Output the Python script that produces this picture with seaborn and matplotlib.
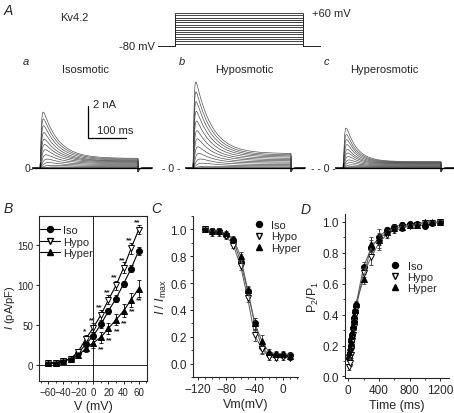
import numpy as np
import pandas as pd
import matplotlib
matplotlib.use("Agg")
import matplotlib.pyplot as plt
import seaborn as sns
from matplotlib.lines import Line2D
from matplotlib.ticker import MultipleLocator

W, H = 454, 414

# Voltage protocol
step_mv = [-70, -60, -50, -40, -30, -20, -10, 0, 10, 20, 30, 40, 50, 60]

# Current traces (nA): peak and steady level for each step, per condition
iso_peak = [4.4, 3.9, 3.4, 2.9, 2.4, 2.0, 1.6, 1.2, 0.85, 0.55, 0.3, 0.12, 0.04]
iso_steady = [0.6, 0.55, 0.5, 0.45, 0.42, 0.38, 0.33, 0.28, 0.22, 0.16, 0.1, 0.05, 0.02]
hypo_peak = [6.5, 5.8, 5.1, 4.4, 3.7, 3.0, 2.4, 1.8, 1.3, 0.85, 0.5, 0.2, 0.06]
hypo_steady = [0.9, 0.82, 0.75, 0.68, 0.6, 0.52, 0.45, 0.37, 0.3, 0.22, 0.14, 0.07, 0.02]
hyper_peak = [3.5, 3.0, 2.6, 2.2, 1.8, 1.5, 1.2, 0.9, 0.65, 0.42, 0.22, 0.1, 0.03]
hyper_steady = [0.4, 0.37, 0.34, 0.31, 0.28, 0.25, 0.21, 0.17, 0.13, 0.09, 0.06, 0.03, 0.01]
tau_inact = {"iso": 40, "hypo": 42, "hyper": 28}

# B: I-V
iv_v = [-60, -50, -40, -30, -20, -10, 0, 10, 20, 30, 40, 50, 60]
iv_iso = [2, 3, 5, 8, 15.5, 26, 37, 51, 68, 83.5, 102, 121, 143.5]
iv_hypo = [2, 3, 5, 8, 17, 33, 47, 63, 82, 100, 122, 146.5, 170]
iv_hyper = [2, 3, 5, 8, 12, 21, 28, 35, 46, 57, 68, 82, 96]
iv_iso_err = [0.5, 0.5, 1, 1, 2, 3, 4, 4, 4, 4, 4, 4, 5]
iv_hypo_err = [0.5, 0.5, 1, 1, 3, 5, 6, 6, 6, 6, 7, 7, 6]
iv_hyper_err = [0.5, 0.5, 1, 1, 3, 5, 6, 7, 7, 7, 8, 9, 11]
hypo_sig = ["", "", "", "", "", "*", "**", "**", "**", "**", "**", "**", "**"]
hyper_sig = ["", "", "", "", "", "", "", "**", "**", "**", "**", "**", "**"]

# C: steady-state inactivation
ss_v = [-110, -100, -90, -80, -70, -60, -50, -40, -30, -20, -10, 0, 10]
ss_iso = [1.0, 0.99, 0.99, 0.96, 0.92, 0.76, 0.54, 0.30, 0.12, 0.07, 0.065, 0.065, 0.062]
ss_hypo = [1.0, 0.97, 0.97, 0.95, 0.88, 0.73, 0.49, 0.21, 0.11, 0.05, 0.045, 0.05, 0.045]
ss_hyper = [1.0, 0.99, 0.99, 0.97, 0.93, 0.80, 0.55, 0.30, 0.17, 0.085, 0.075, 0.075, 0.06]
ss_err = [0.01, 0.02, 0.02, 0.02, 0.02, 0.03, 0.03, 0.04, 0.04, 0.02, 0.02, 0.02, 0.02]

# D: recovery from inactivation
rec_t = [10, 20, 30, 40, 50, 60, 70, 80, 90, 100, 200, 300, 400, 500, 600, 700, 800, 900, 1000, 1100, 1200]
rec_iso = [0.12, 0.15, 0.19, 0.23, 0.27, 0.31, 0.35, 0.38, 0.42, 0.46, 0.71, 0.83, 0.90, 0.946, 0.968, 0.98, 0.983, 0.983, 0.97, 0.99, 1.0]
rec_hypo = [0.06, 0.09, 0.14, 0.18, 0.23, 0.27, 0.32, 0.36, 0.40, 0.44, 0.67, 0.77, 0.865, 0.914, 0.946, 0.957, 0.974, 0.98, 0.99, 0.99, 0.996]
rec_hyper = [0.16, 0.19, 0.22, 0.26, 0.29, 0.33, 0.37, 0.40, 0.43, 0.47, 0.63, 0.854, 0.88, 0.935, 0.957, 0.968, 0.978, 0.98, 1.0, 0.996, 1.0]
rec_err = [0.02, 0.02, 0.02, 0.02, 0.02, 0.02, 0.02, 0.02, 0.02, 0.02, 0.03, 0.05, 0.05, 0.02, 0.02, 0.02, 0.01, 0.01, 0.01, 0.01, 0.01]

sns.set_style("ticks")
plt.rcParams["font.family"] = ["Liberation Sans", "DejaVu Sans"]
plt.rcParams["mathtext.fontset"] = "custom"
plt.rcParams["mathtext.rm"] = "Liberation Sans"
plt.rcParams["mathtext.it"] = "Liberation Sans:italic"
plt.rcParams["font.size"] = 8
plt.rcParams["axes.linewidth"] = 0.8
plt.rcParams["xtick.major.width"] = 0.7
plt.rcParams["ytick.major.width"] = 0.7
plt.rcParams["xtick.major.size"] = 2.5
plt.rcParams["ytick.major.size"] = 2.5
plt.rcParams["xtick.minor.size"] = 1.5
plt.rcParams["ytick.minor.size"] = 1.5
plt.rcParams["xtick.major.pad"] = 2
plt.rcParams["ytick.major.pad"] = 2

fig = plt.figure(figsize=(4.54, 4.14), dpi=100)


def px_axes(x0, y0, x1, y1):
    return fig.add_axes([x0 / W, 1 - y1 / H, (x1 - x0) / W, (y1 - y0) / H])


def ftext(x, y, s, **kw):
    fig.text(x / W, 1 - y / H, s, **kw)


# ---------- A: protocol ----------
axp = px_axes(158, 14, 320, 47)
axp.set_xlim(-40, 340)
axp.set_ylim(-80, 60)
axp.axis("off")
for v in step_mv:
    axp.plot([-40, 0, 0, 300, 300, 340], [-80, -80, v, v, -80, -80],
             color="0.15", lw=0.6, clip_on=False)
ftext(312, 14, "+60 mV", ha="left", va="center", fontsize=8)
ftext(155, 47, "-80 mV", ha="right", va="center", fontsize=8)
ftext(4, 11, "A", fontsize=10, style="italic", va="center")
ftext(60, 18, "Kv4.2", fontsize=8, va="center")

# ---------- A: traces ----------
t = np.linspace(-20, 295, 1200)


def draw_traces(x0, peaks, steady, tau, title, title_x, letter, letter_x, zero_lbl, zero_x):
    ax = px_axes(x0 - 20, 40, x0 + 112, 185)
    ax.set_xlim(-20 / 0.38, 112 / 0.38)
    ax.set_ylim(-(185 - 169) / 16, (169 - 40) / 16)
    ax.axis("off")
    on = (t >= 0) & (t <= 258)
    for p, s in zip(peaks, steady):
        ta = 1.0 + 6.0 / (p + 0.3)
        cur = np.where(on, ((p - s) * np.exp(-t / tau) + s) * (1 - np.exp(-np.clip(t, 0, None) / ta)) ** 2, 0.0)
        cur = cur + np.where(t > 258, -0.25 * np.exp(-(t - 258) / 3.0), 0.0)
        ax.plot(t, cur, color="0.25", lw=0.45, clip_on=False)
    ax.plot([-18, 295], [0, 0], color="k", lw=0.9)
    ax.plot([0, 0], [0, 0.3], color="k", lw=0.9)
    ftext(title_x, 70, title, fontsize=8, va="center")
    ftext(letter_x, 62, letter, fontsize=8, style="italic", va="center")
    ftext(zero_x, 169, zero_lbl, fontsize=7.5, va="center", ha="right")
    return ax


axa = draw_traces(40, iso_peak, iso_steady, tau_inact["iso"], "Isosmotic", 62, "a", 23, "0-", 34)
draw_traces(193, hypo_peak, hypo_steady, tau_inact["hypo"], "Hyposmotic", 215, "b", 179, "- 0 -", 180)
draw_traces(343, hyper_peak, hyper_steady, tau_inact["hyper"], "Hyperosmotic", 350, "c", 324, "- - 0 -", 336)
# scale bar: 2 nA, 100 ms
axa.plot([126, 126, 226], [3.875, 1.875, 1.875], color="k", lw=0.9)
ftext(93, 105, "2 nA", fontsize=8, va="center")
ftext(97, 131, "100 ms", fontsize=8, va="center")

iso_kw = dict(marker="o", color="k", markerfacecolor="k", markeredgecolor="k")
hypo_kw = dict(marker="v", color="k", markerfacecolor="white", markeredgecolor="k")
hyper_kw = dict(marker="^", color="k", markerfacecolor="k", markeredgecolor="k")
ms = 4.3


def marker_legend(ax, lw, **kw):
    hs = [Line2D([], [], lw=lw, markersize=ms, label="Iso", **iso_kw),
          Line2D([], [], lw=lw, markersize=ms, label="Hypo", **hypo_kw),
          Line2D([], [], lw=lw, markersize=ms, label="Hyper", **hyper_kw)]
    ax.legend(handles=hs, frameon=False, fontsize=8, borderpad=0.1, **kw)


# ---------- B ----------
axB = px_axes(39, 217, 147, 382)
dfB = pd.DataFrame({"V": iv_v * 3, "I": iv_iso + iv_hypo + iv_hyper,
                    "cond": ["Iso"] * 13 + ["Hypo"] * 13 + ["Hyper"] * 13})
for cond, err, kw in [("Iso", iv_iso_err, iso_kw), ("Hypo", iv_hypo_err, hypo_kw),
                      ("Hyper", iv_hyper_err, hyper_kw)]:
    sub = dfB[dfB["cond"] == cond]
    axB.errorbar(sub["V"], sub["I"], yerr=err, fmt="none", ecolor="k", elinewidth=0.6, capsize=1.5, capthick=0.6)
    sns.lineplot(data=sub, x="V", y="I", ax=axB, lw=0.8, markersize=ms, markeredgewidth=0.7, **kw)
for v, yv, s in zip(iv_v, iv_hypo, hypo_sig):
    if s:
        axB.text(v - 2, yv + 6, s, fontsize=6, fontweight="bold", ha="center", va="bottom")
for v, yv, s in zip(iv_v, iv_hyper, hyper_sig):
    if s:
        axB.text(v + 1, yv - 10, s, fontsize=6, fontweight="bold", ha="center", va="top")
axB.axhline(0, color="k", lw=0.6)
axB.axvline(0, color="k", lw=0.6)
axB.set_xlim(-72, 71)
axB.set_ylim(-20, 187)
axB.set_xticks([-60, -40, -20, 0, 20, 40, 60])
axB.xaxis.set_minor_locator(MultipleLocator(10))
axB.set_yticks([0, 50, 100, 150])
axB.set_xlabel("V (mV)", fontsize=9, labelpad=2)
axB.set_ylabel("$I$ (pA/pF)", fontsize=8)
axB.yaxis.set_label_coords(-0.205, 0.45)
marker_legend(axB, 0.8, loc="upper left", handlelength=1.8, handletextpad=0.3,
              labelspacing=0.12, borderaxespad=0.0, bbox_to_anchor=(0.0, 0.95))
ftext(4, 209, "B", fontsize=10, style="italic", va="center")

# ---------- C ----------
axC = px_axes(193, 217, 298, 378)
for vals, kw in [(ss_iso, iso_kw), (ss_hypo, hypo_kw), (ss_hyper, hyper_kw)]:
    axC.errorbar(ss_v, vals, yerr=ss_err, fmt="none", ecolor="0.2", elinewidth=0.6, capsize=1.2, capthick=0.6)
    sns.lineplot(x=ss_v, y=vals, ax=axC, lw=0.7, markersize=ms, markeredgewidth=0.7,
                 **{**kw, "color": "0.35"})
    axC.lines[-1].set_markeredgecolor("k")
sns.despine(ax=axC)
axC.set_xlim(-127, 21)
axC.set_ylim(-0.1, 1.1)
axC.set_xticks([-120, -80, -40, 0])
axC.xaxis.set_minor_locator(MultipleLocator(10))
axC.set_yticks([0.0, 0.2, 0.4, 0.6, 0.8, 1.0])
axC.yaxis.set_minor_locator(MultipleLocator(0.1))
axC.set_yticklabels(["0.0", "0.2", "0.4", "0.6", "0.8", "1.0"])
axC.set_xlabel("Vm(mV)", fontsize=9, labelpad=2)
axC.set_ylabel("$I$ / $I$$_{\\rm max}$", fontsize=9, labelpad=1)
marker_legend(axC, 0, loc="upper right", handlelength=1.0, handletextpad=0.6,
              labelspacing=0.1, borderaxespad=0.0, bbox_to_anchor=(1.04, 0.98))
ftext(151, 209, "C", fontsize=10, style="italic", va="center")

# ---------- D ----------
axD = px_axes(345, 215, 449, 379)
for vals, kw in [(rec_iso, iso_kw), (rec_hypo, hypo_kw), (rec_hyper, hyper_kw)]:
    axD.errorbar(rec_t, vals, yerr=rec_err, fmt="none", ecolor="0.2", elinewidth=0.6, capsize=1.2, capthick=0.6)
    sns.lineplot(x=rec_t, y=vals, ax=axD, lw=0.7, markersize=ms, markeredgewidth=0.7,
                 **{**kw, "color": "0.35"})
    axD.lines[-1].set_markeredgecolor("k")
sns.despine(ax=axD)
axD.set_xlim(-43, 1316)
axD.set_ylim(-0.01, 1.05)
axD.set_xticks([0, 400, 800, 1200])
axD.xaxis.set_minor_locator(MultipleLocator(200))
axD.set_yticks([0.0, 0.2, 0.4, 0.6, 0.8, 1.0])
axD.set_yticklabels(["0.0", "0.2", "0.4", "0.6", "0.8", "1.0"])
axD.yaxis.set_minor_locator(MultipleLocator(0.1))
axD.set_xlabel("Time (ms)", fontsize=9, labelpad=2)
axD.set_ylabel("P$_2$/P$_1$", fontsize=9, labelpad=1)
marker_legend(axD, 0, loc="upper left", handlelength=1.0, handletextpad=0.6,
              labelspacing=0.1, borderaxespad=0.0, bbox_to_anchor=(0.42, 0.72))
ftext(301, 210, "D", fontsize=10, style="italic", va="center")

for ax in (axB, axC, axD):
    ax.tick_params(labelsize=8.5)
    ax.grid(False)
axB.tick_params(axis="y", labelsize=7, pad=1.5)
axB.tick_params(axis="x", labelsize=7)

fig.savefig("out.png", dpi=100)
